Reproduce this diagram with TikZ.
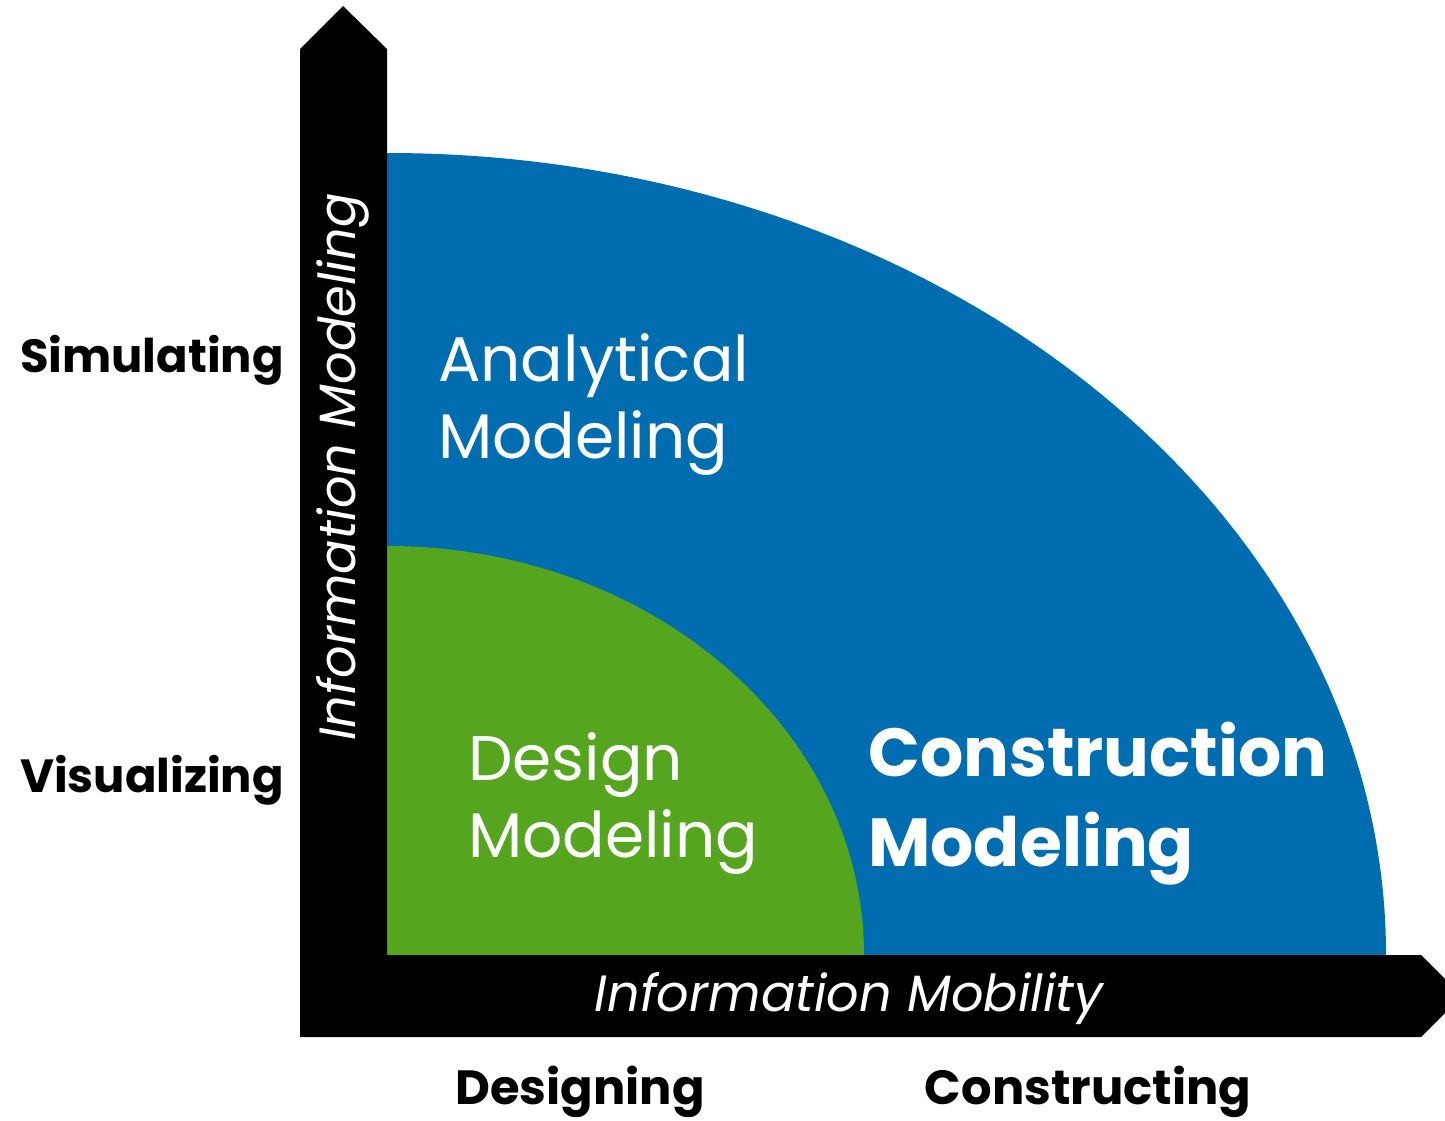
\documentclass[tikz,border=0pt]{standalone}
\usepackage{fontspec}
\setmainfont{Poppins}
\definecolor{cblue}{RGB}{0,109,176}
\definecolor{cgreen}{RGB}{86,165,30}
\begin{document}
\begin{tikzpicture}[x=1pt,y=-1pt,
  white label/.style={text=white, align=left, inner sep=0pt, font=\fontsize{63}{77}\selectfont},
  axis label/.style={text=white, inner sep=0pt, font=\itshape\fontsize{51}{60}\selectfont},
  side label/.style={text=black, inner sep=0pt, font=\bfseries\fontsize{48}{56}\selectfont}]
\useasboundingbox (0,0) rectangle (1445,1121);
% regions
\fill[cblue] (387,955) -- (1386,955) arc[start angle=0, end angle=-90, x radius=999, y radius=802] -- cycle;
\fill[cgreen] (387,955) -- (864,955) arc[start angle=0, end angle=-90, x radius=477, y radius=409] -- cycle;
% axes
\fill[black] (300,1037) -- (300,49) -- (343,6) -- (387,49) -- (387,955) -- (1421,955) -- (1445,979) -- (1445,1013) -- (1421,1037) -- cycle;
% labels
\node[axis label, rotate=90] (ylab) at (343,467) {Information Modeling};
\node[axis label] (xlab) at (849,999) {Information Mobility};
\node[white label, anchor=north west] (ana) at (438,333) {Analytical\\Modeling};
\node[white label, anchor=north west] (des) at (468,732) {Design\\Modeling};
\node[white label, anchor=north west, font=\bfseries\fontsize{68}{90}\selectfont] (con) at (868,722) {Construction\\Modeling};
\node[side label, anchor=east, font=\bfseries\fontsize{46.5}{56}\selectfont] (sim) at (284,360) {Simulating};
\node[side label, anchor=east, font=\bfseries\fontsize{46.5}{56}\selectfont] (vis) at (284,780) {Visualizing};
\node[side label] (dsg) at (580,1092) {Designing};
\node[side label] (cst) at (1088,1092) {Constructing};
\end{tikzpicture}
\end{document}
